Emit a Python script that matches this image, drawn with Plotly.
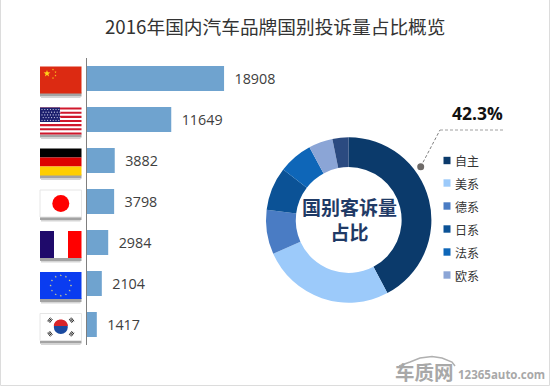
import math
import plotly.graph_objects as go

W, H = 550, 386
countries = ["中国", "美国", "德国", "日本", "法国", "欧洲", "韩国"]
complaints = [18908, 11649, 3882, 3798, 2984, 2104, 1417]
pie_labels = ["自主", "美系", "德系", "日系", "法系", "欧系", "韩系"]
pie_colors = ["#0b3a6b", "#9ccafa", "#4a7cc4", "#0b5296", "#0e66b8", "#8ba5d6", "#2b4a80"]
legend_labels = pie_labels[:6]
title = "2016年国内汽车品牌国别投诉量占比概览"
share = "42.3%"
CJK = "Noto Sans CJK SC"
NUM = "Open Sans"

def X(x): return x / W
def Y(y): return 1 - y / H

shapes = []
def rect(x0, y0, x1, y1, fill, line=None):
    shapes.append(dict(type="rect", xref="paper", yref="paper", x0=X(x0), x1=X(x1), y0=Y(y0), y1=Y(y1),
                       fillcolor=fill, line=dict(width=1 if line else 0, color=line or fill), layer="above"))
def circle(cx, cy, r, fill):
    shapes.append(dict(type="circle", xref="paper", yref="paper", x0=X(cx-r), x1=X(cx+r), y0=Y(cy-r), y1=Y(cy+r),
                       fillcolor=fill, line=dict(width=0), layer="above"))
def path(pts, fill=None, color=None, width=0, dash=None, close=True):
    d = "M" + " L".join(f"{X(a):.5f},{Y(b):.5f}" for a, b in pts) + (" Z" if close else "")
    shapes.append(dict(type="path", xref="paper", yref="paper", path=d, fillcolor=fill or "rgba(0,0,0,0)",
                       line=dict(width=width, color=color or "rgba(0,0,0,0)", dash=dash or "solid"), layer="above"))
def star(cx, cy, r, fill, rot=0):
    pts = []
    for i in range(10):
        a = rot - math.pi/2 + i*math.pi/5
        q = r if i % 2 == 0 else r*0.4
        pts.append((cx+q*math.cos(a), cy+q*math.sin(a)))
    path(pts, fill=fill)

# page border
path([(0.5,0),(0.5,H-0.5),(W-0.5,H-0.5),(W-0.5,0)], color="#dcdcdc", width=1, close=False)

# flags
FX0, FX1, FH = 40, 81.5, 27
centers = [80, 121, 162, 203.5, 244.5, 285.5, 327]
for cy in centers:
    rect(FX0, cy-FH/2+FH-1, FX1, cy+FH/2+3, "#a3a3a3")
    rect(FX0+1, cy+FH/2+3, FX1-1, cy+FH/2+4.5, "#d5d5d5")

# China
cy = centers[0]; t = cy-FH/2
rect(FX0, t, FX1, t+FH, "#dc2a12")
star(47, t+7, 3.6, "#ffd21a")
for dx, dy in [(53,t+3),(55.5,t+5.5),(55.5,t+9),(53,t+11.5)]:
    star(dx, dy, 1.1, "#ffd21a")

# USA
cy = centers[1]; t = cy-FH/2
rect(FX0, t, FX1, t+FH, "#ffffff")
for i in range(0, 13, 2):
    rect(FX0, t+i*FH/13, FX1, t+(i+1)*FH/13, "#d0182c")
rect(FX0, t, 60, t+14.5, "#1c1f6e")
for r_ in range(5):
    for c_ in range(7):
        circle(42+c_*2.8+(r_%2)*1.2, t+2+r_*2.7, 0.6, "#d8d8f0")

# Germany
cy = centers[2]; t = cy-FH/2
rect(FX0, t, FX1, t+FH/3, "#000000")
rect(FX0, t+FH/3, FX1, t+2*FH/3, "#dd0000")
rect(FX0, t+2*FH/3, FX1, t+FH, "#ffce00")

# Japan
cy = centers[3]; t = cy-FH/2
rect(FX0, t, FX1, t+FH, "#ffffff", "#e6e6e6")
circle(60.8, cy, 8.5, "#ff0000")

# France
cy = centers[4]; t = cy-FH/2
rect(FX0, t, FX1, t+FH, "#ffffff")
rect(FX0, t, 54, t+FH, "#1f0a6b")
rect(68, t, FX1, t+FH, "#ff0000")

# EU
cy = centers[5]; t = cy-FH/2
rect(FX0, t, FX1, t+FH, "#0a3cf0")
for i in range(12):
    a = i*math.pi/6
    star(60.8+10.2*math.cos(a), cy+10.2*math.sin(a), 1.2, "#d9d48a")

# Korea
cy = centers[6]; t = cy-FH/2
rect(FX0, t, FX1, t+FH, "#ffffff", "#e6e6e6")
circle(60.8, cy, 7, "#1a4aa0")
shapes.append(dict(type="path", xref="paper", yref="paper", layer="above", fillcolor="#d8252a", line=dict(width=0),
                   path="M" + " L".join(f"{X(60.8+7*math.cos(a*math.pi/18)):.5f},{Y(cy-1+6.5*math.sin(-a*math.pi/18)):.5f}" for a in range(0, 19)) + " Z"))
for sx, sy in [(-1,-1),(1,-1),(-1,1),(1,1)]:
    cx_, cy_ = 60.8+sx*10.8, cy+sy*6.8
    ra, rb = sx*0.8, sy*0.6          # radial direction
    ba, bb = -rb, ra                 # bar direction
    for k in (-1, 0, 1):
        ox, oy = k*1.3*ra, k*1.3*rb
        path([(cx_+ox-2.3*ba, cy_+oy-2.3*bb), (cx_+ox+2.3*ba, cy_+oy+2.3*bb)], color="#2a2a2a", width=1, close=False)

# callout
path([(420.7,166.7),(440,130)], color="#808080", width=1, dash="3px,2px", close=False)
path([(440,130),(505,130)], color="#a0a0a0", width=1, dash="3px,2px", close=False)
circle(420.7, 166.7, 3.5, "#6e6a68")

# legend squares
LEG_Y = [160.5, 183, 206, 229, 252, 275]
for ly, col in zip(LEG_Y, pie_colors):
    rect(443.5, ly-3.7, 450.5, ly+3.7, col)

# logo arc
path([(399,366),(410,362),(420,358),(432,356.5),(442,358),(452,362),(455,366)], color="#b0b0b0", width=1.5, close=False)

annotations = [
    dict(x=X(275), y=Y(25), text=title, font=dict(family=CJK, size=18.7, color="#333333")),
    dict(x=X(349), y=Y(218.5), text="<b>国别客诉量<br>占比</b>", font=dict(family=CJK, size=19, color="#1f3a66")),
    dict(x=X(477), y=Y(113), text=f"<b>{share}</b>", font=dict(family=NUM, size=17.5, color="#111111")),
    dict(x=X(424.5), y=Y(371), text="<b>车质网</b>", font=dict(family=CJK, size=19.5, color="#a8a8a8")),
    dict(x=X(501), y=Y(374), text="<b>12365auto.com</b>", font=dict(family=NUM, size=11.5, color="#a8a8a8")),
]
for ly, lab in zip(LEG_Y, legend_labels):
    annotations.append(dict(x=X(453), y=Y(ly+0.5), text=lab, xanchor="left", font=dict(family=CJK, size=12, color="#333333")))
for a in annotations:
    a.update(xref="paper", yref="paper", showarrow=False)
    a.setdefault("xanchor", "center")
    a["yanchor"] = "middle"

fig = go.Figure()
fig.add_trace(go.Bar(
    x=complaints, y=countries, orientation="h", marker=dict(color="#6fa3cf", line=dict(width=0)),
    text=[f"\u00a0\u00a0{v}" for v in complaints], textposition="outside", cliponaxis=False,
    textfont=dict(family=NUM, size=14.3, color="#404040"), hoverinfo="skip", width=0.61,
))
fig.add_trace(go.Pie(
    labels=pie_labels, values=complaints, sort=False, direction="clockwise", rotation=0, hole=0.64,
    marker=dict(colors=pie_colors, line=dict(width=0)), textinfo="none", hoverinfo="skip", showlegend=False,
    domain=dict(x=[X(266), X(431.4)], y=[Y(302.7), Y(137.3)]),
))
fig.update_layout(
    width=W, height=H, margin=dict(l=0, r=0, t=0, b=0), autosize=False,
    paper_bgcolor="#ffffff", plot_bgcolor="rgba(0,0,0,0)", showlegend=False,
    xaxis=dict(domain=[X(86.5), X(361.5)], range=[0, 37800], visible=False, fixedrange=True),
    yaxis=dict(domain=[Y(345), Y(58)], autorange="reversed", showline=True, linecolor="#7f7f7f", linewidth=1.2,
               showticklabels=False, ticks="", showgrid=False, zeroline=False, fixedrange=True),
    shapes=shapes, annotations=annotations,
)
fig.write_html("out.html", config=dict(displayModeBar=False),
               post_script="document.body.style.margin='0';document.body.style.overflow='hidden';")
